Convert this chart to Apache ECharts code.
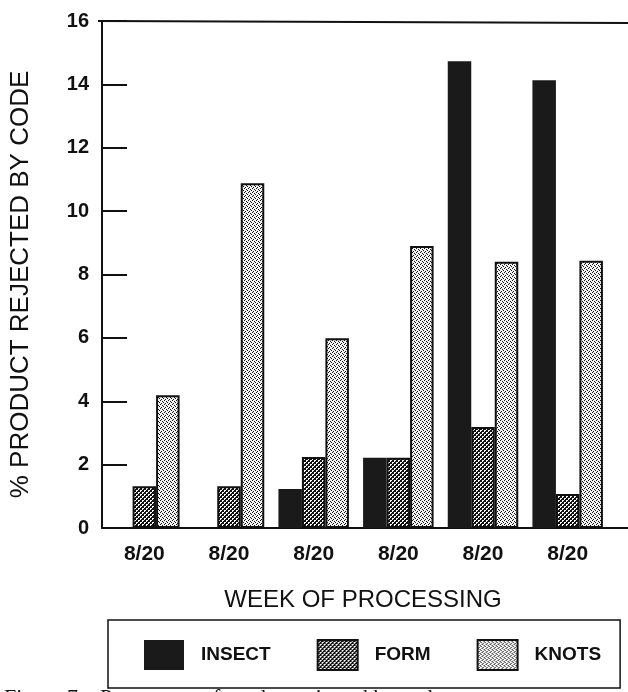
<!DOCTYPE html>
<html>
<head>
<meta charset="utf-8">
<script src="https://cdn.jsdelivr.net/npm/echarts@6/dist/echarts.min.js"></script>
<style>
  html, body { margin: 0; padding: 0; background: #ffffff; }
  #chart { width: 628px; height: 692px; }
</style>
</head>
<body>
<div id="chart"></div>
<script>
// ---- data ----
var weeks = ['8/20', '8/20', '8/20', '8/20', '8/20', '8/20'];
var insect = [0, 0, 1.23, 2.22, 14.73, 14.13];
var form = [1.32, 1.32, 2.24, 2.22, 3.19, 1.07];
var knots = [4.19, 10.88, 5.99, 8.9, 8.4, 8.43];
var yTicks = [0, 2, 4, 6, 8, 10, 12, 14, 16];
var seriesNames = ['INSECT', 'FORM', 'KNOTS'];

// ---- patterns ----
function makePattern(size, base, dots) {
  var c = document.createElement('canvas');
  c.width = size; c.height = size;
  var ctx = c.getContext('2d');
  ctx.fillStyle = base;
  ctx.fillRect(0, 0, size, size);
  ctx.fillStyle = '#111111';
  for (var y = 0; y < size; y++) {
    for (var x = 0; x < size; x++) {
      if (dots(x, y)) ctx.fillRect(x, y, 1, 1);
    }
  }
  return { image: c, repeat: 'repeat' };
}
var formPattern = makePattern(4, '#ffffff', function (x, y) {
  return ((x + y) % 4) < 2 || ((x - y + 8) % 4 === 0);
});
var knotsPattern = makePattern(4, '#f4f4f4', function (x, y) {
  return (x === 0 && y === 0) || (x === 2 && y === 1) || (x === 1 && y === 3) || (x === 3 && y === 2);
});

var boldFont = '"Liberation Sans", Arial, sans-serif';
var regular = '"Liberation Sans", Arial, sans-serif';

var chart = echarts.init(document.getElementById('chart'), null, { renderer: 'canvas' });
chart.setOption({
  animation: false,
  backgroundColor: '#ffffff',
  grid: { left: 98, right: 18, top: 21, bottom: 164, containLabel: false },
  legend: {
    data: seriesNames,
    left: 108,
    top: 620,
    width: 475,
    orient: 'horizontal',
    itemWidth: 40,
    itemHeight: 30,
    itemGap: 46,
    padding: [19, 19, 17, 36],
    borderColor: '#111111',
    borderWidth: 1.5,
    icon: 'rect',
    textStyle: { fontFamily: boldFont, fontWeight: 'bold', fontSize: 19, color: '#111111', padding: [0, 0, 0, 12] }
  },
  xAxis: {
    type: 'category',
    data: weeks,
    axisLine: { show: true, lineStyle: { color: '#111111', width: 2 } },
    axisTick: { show: false },
    axisLabel: { fontFamily: boldFont, fontWeight: 'bold', fontSize: 21, color: '#111111', margin: 16 },
    name: 'WEEK OF PROCESSING',
    nameLocation: 'middle',
    nameGap: 60,
    nameTextStyle: { fontFamily: regular, fontSize: 24, color: '#111111', padding: [0, 0, 0, 14] }
  },
  yAxis: {
    type: 'value',
    min: yTicks[0],
    max: yTicks[yTicks.length - 1],
    interval: 2,
    splitLine: { show: false },
    axisLine: { show: true, lineStyle: { color: '#111111', width: 2 } },
    axisTick: { show: true, inside: true, length: 25, lineStyle: { color: '#111111', width: 2 } },
    axisLabel: { fontFamily: boldFont, fontWeight: 'bold', fontSize: 20, color: '#111111', margin: 13 },
    name: '% PRODUCT REJECTED BY CODE',
    nameLocation: 'middle',
    nameGap: 68,
    nameTextStyle: { fontFamily: regular, fontSize: 26, color: '#111111', padding: [0, 20, 0, 0] }
  },
  series: [
    {
      name: seriesNames[0], type: 'bar', data: insect, barWidth: 23.5, barGap: '0%',
      itemStyle: { color: '#1a1a1a', borderColor: '#1a1a1a', borderWidth: 0 }
    },
    {
      name: seriesNames[1], type: 'bar', data: form, barWidth: 23.5, barGap: '0%',
      itemStyle: { color: formPattern, borderColor: '#111111', borderWidth: 2 }
    },
    {
      name: seriesNames[2], type: 'bar', data: knots, barWidth: 23.5, barGap: '0%',
      itemStyle: { color: knotsPattern, borderColor: '#111111', borderWidth: 2 }
    }
  ],
  graphic: [
    { type: 'line', shape: { x1: 98, y1: 21, x2: 628, y2: 23 }, style: { stroke: '#111111', lineWidth: 2 }, z: 10 },
    { type: 'line', shape: { x1: 608, y1: 528, x2: 628, y2: 528 }, style: { stroke: '#111111', lineWidth: 2 }, z: 10 },
    { type: 'text', left: 4, top: 687, style: { text: 'Figure 7.   Percentage of product rejected by code', fontFamily: '"Liberation Serif", serif', fontSize: 22, fill: '#111111' } }
  ]
});
</script>
</body>
</html>
